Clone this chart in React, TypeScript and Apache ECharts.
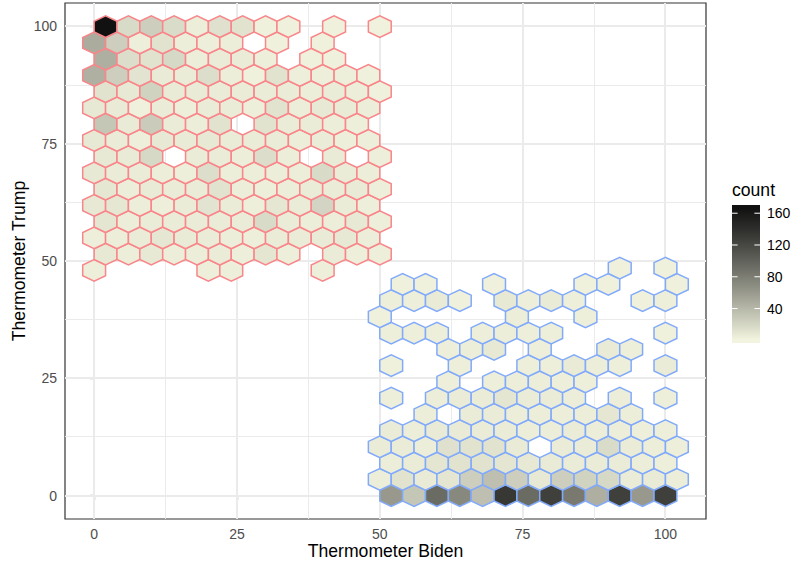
import React, { useEffect, useRef } from "react";
import * as echarts from "echarts";

// ---------- data ----------
const xMajorBreaks = [0, 25, 50, 75, 100];
const yMajorBreaks = [0, 25, 50, 75, 100];
const xMinorBreaks = [12.5, 37.5, 62.5, 87.5];
const yMinorBreaks = [12.5, 37.5, 62.5, 87.5];
const legendBreaks = [40, 80, 120, 160];
const countLimits = [1, 166];

const binWidth = 4;
// hexbin origins (x of first column in even rows, y of first row)
const trumpOrigin = [0, 48];
const bidenOrigin = [48, 0];

// counts per hex: rows from bottom (row 0) upward, columns left to right
const trumpCounts: number[][] = [
  [4, 0, 0, 0, 0, 4, 4, 0, 0, 0, 4, 0, 0],
  [8, 5, 8, 5, 5, 6, 4, 10, 4, 0, 6, 4, 4],
  [4, 5, 6, 9, 7, 6, 5, 4, 6, 6, 7, 8, 5],
  [10, 5, 6, 6, 6, 6, 6, 17, 6, 5, 5, 8, 4],
  [8, 9, 5, 4, 6, 11, 6, 4, 9, 6, 21, 6, 4],
  [9, 5, 7, 6, 6, 12, 5, 4, 5, 6, 6, 7, 4],
  [8, 6, 6, 5, 4, 15, 5, 5, 5, 5, 17, 6, 5],
  [8, 7, 18, 0, 6, 6, 5, 15, 5, 0, 7, 0, 4],
  [8, 6, 4, 8, 7, 8, 6, 6, 6, 5, 6, 4, 4],
  [30, 7, 27, 6, 5, 12, 0, 12, 6, 6, 5, 4, 0],
  [8, 7, 3, 6, 4, 6, 6, 4, 12, 5, 8, 7, 5],
  [12, 8, 22, 7, 7, 6, 6, 6, 6, 5, 6, 5, 3],
  [45, 25, 11, 7, 6, 15, 5, 3, 12, 4, 4, 4, 3],
  [46, 15, 12, 18, 5, 6, 6, 4, 0, 3, 3, 0, 0],
  [48, 25, 4, 12, 5, 4, 5, 0, 3, 0, 3, 0, 0],
  [166, 17, 25, 16, 5, 13, 12, 3, 3, 0, 3, 0, 2],
];

const bidenCounts: number[][] = [
  [0, 61, 30, 93, 72, 35, 133, 93, 126, 83, 46, 126, 61, 126],
  [5, 12, 7, 10, 25, 35, 25, 8, 25, 22, 18, 6, 7, 5],
  [0, 5, 6, 10, 12, 12, 10, 8, 7, 6, 6, 6, 5, 4],
  [6, 6, 5, 13, 12, 12, 7, 0, 6, 6, 16, 6, 5, 4],
  [0, 6, 5, 7, 7, 6, 6, 5, 5, 6, 5, 5, 4, 4],
  [0, 0, 5, 0, 6, 6, 5, 5, 5, 5, 9, 5, 0, 0],
  [0, 4, 0, 5, 6, 6, 10, 6, 6, 5, 0, 5, 0, 4],
  [0, 0, 0, 4, 0, 4, 5, 5, 4, 4, 0, 0, 0, 0],
  [0, 3, 0, 0, 4, 0, 0, 4, 4, 7, 5, 4, 0, 6],
  [0, 0, 0, 4, 5, 8, 0, 4, 0, 0, 7, 4, 0, 0],
  [0, 4, 4, 4, 0, 4, 5, 4, 4, 0, 0, 0, 0, 3],
  [3, 0, 0, 0, 0, 0, 5, 0, 0, 4, 0, 0, 0, 0],
  [0, 4, 4, 7, 3, 0, 8, 4, 7, 4, 0, 0, 3, 4],
  [0, 3, 3, 0, 0, 3, 0, 0, 0, 3, 3, 0, 0, 3],
  [0, 0, 0, 0, 0, 0, 0, 0, 0, 0, 0, 3, 0, 3],
];

// ---------- styling ----------
const lowColor = "#F2F4DF";
const highColor = "#111111";
const trumpStroke = "#F8868A";
const bidenStroke = "#82AAFA";
const FONT = "'Liberation Sans', Arial, Helvetica, sans-serif";

const xRange = [-5.1, 107.1];
const yRange = [-5, 105];

// ---------- Lab gradient (like ggplot2 scale_fill_gradient) ----------
function toLab(hex: string) {
  const n = parseInt(hex.slice(1), 16);
  const rgb = [(n >> 16) & 255, (n >> 8) & 255, n & 255].map((v) => {
    const c = v / 255;
    return c <= 0.04045 ? c / 12.92 : Math.pow((c + 0.055) / 1.055, 2.4);
  });
  const X = (rgb[0] * 0.4124 + rgb[1] * 0.3576 + rgb[2] * 0.1805) / 0.95047;
  const Y = rgb[0] * 0.2126 + rgb[1] * 0.7152 + rgb[2] * 0.0722;
  const Z = (rgb[0] * 0.0193 + rgb[1] * 0.1192 + rgb[2] * 0.9505) / 1.08883;
  const f = (t: number) => (t > 0.008856 ? Math.cbrt(t) : 7.787 * t + 16 / 116);
  return [116 * f(Y) - 16, 500 * (f(X) - f(Y)), 200 * (f(Y) - f(Z))];
}
function fromLab(lab: number[]) {
  const fy = (lab[0] + 16) / 116;
  const fx = fy + lab[1] / 500;
  const fz = fy - lab[2] / 200;
  const inv = (t: number) => (t * t * t > 0.008856 ? t * t * t : (t - 16 / 116) / 7.787);
  const X = inv(fx) * 0.95047, Y = inv(fy), Z = inv(fz) * 1.08883;
  const r = X * 3.2406 + Y * -1.5372 + Z * -0.4986;
  const g = X * -0.9689 + Y * 1.8758 + Z * 0.0415;
  const b = X * 0.0557 + Y * -0.204 + Z * 1.057;
  const enc = (c: number) => {
    const v = c <= 0.0031308 ? 12.92 * c : 1.055 * Math.pow(c, 1 / 2.4) - 0.055;
    return Math.max(0, Math.min(255, Math.round(v * 255)));
  };
  return "#" + [r, g, b].map((c) => enc(c).toString(16).padStart(2, "0")).join("");
}
const labLow = toLab(lowColor);
const labHigh = toLab(highColor);
function gradientColor(t: number) {
  return fromLab(labLow.map((v, k) => v + (labHigh[k] - v) * t));
}
const rampStops: string[] = [];
for (let k = 0; k <= 20; k++) rampStops.push(gradientColor(k / 20));

// ---------- hex centres from bin indices ----------
const rowStep = (binWidth * Math.sqrt(3)) / 2;
function buildHexes(rows: number[][], origin: number[]) {
  const out: number[][] = [];
  rows.forEach((row, i) =>
    row.forEach((c, j) => {
      if (c > 0) out.push([origin[0] + binWidth * (j + (i % 2) * 0.5), origin[1] + rowStep * i, c]);
    })
  );
  return out;
}
const hdx = binWidth / 2;
const hdy = (rowStep / Math.sqrt(3) / 2) * 1.15;
const hexOffsets = [
  [hdx, hdy],
  [0, 2 * hdy],
  [-hdx, hdy],
  [-hdx, -hdy],
  [0, -2 * hdy],
  [hdx, -hdy],
];

function hexRenderer(stroke: string) {
  return (params: any, api: any) => {
    const x = api.value(0);
    const y = api.value(1);
    const pts = hexOffsets.map(([ox, oy]) => api.coord([x + ox, y + oy]));
    return {
      type: "polygon",
      shape: { points: pts },
      style: { fill: api.visual("color"), stroke, lineWidth: 1.5 },
    };
  };
}

const gridData: number[][] = [
  ...xMinorBreaks.map((v) => [v, 0, 0]),
  ...yMinorBreaks.map((v) => [v, 1, 0]),
  ...xMajorBreaks.map((v) => [v, 0, 1]),
  ...yMajorBreaks.map((v) => [v, 1, 1]),
];

// legend geometry
const bar = { x: 732, y: 205, w: 28, h: 138 };
const nbin = 20;
function legendY(v: number) {
  const p = (0.5 + ((nbin - 1) * (v - countLimits[0])) / (countLimits[1] - countLimits[0])) / nbin;
  return bar.y + bar.h - p * bar.h;
}

export default function App() {
  const ref = useRef<HTMLDivElement>(null);
  useEffect(() => {
    document.body.style.margin = "0";
    const chart = echarts.init(ref.current!, null, { renderer: "svg" });
    const legendGraphics: any[] = [
      {
        type: "text",
        left: bar.x,
        top: 181,
        style: { text: "count", fontSize: 17.6, fontFamily: FONT, fill: "#000" },
      },
      {
        type: "rect",
        shape: { x: bar.x, y: bar.y, width: bar.w, height: bar.h },
        style: {
          fill: {
            type: "linear",
            x: 0,
            y: 1,
            x2: 0,
            y2: 0,
            colorStops: rampStops.map((c, k) => ({ offset: 0.025 + (0.95 * k) / 20, color: c })),
          },
        },
      },
    ];
    legendBreaks.forEach((v) => {
      const y = legendY(v);
      legendGraphics.push(
        { type: "line", shape: { x1: bar.x, y1: y, x2: bar.x + bar.w / 5, y2: y }, style: { stroke: "#ffffff", lineWidth: 1 } },
        { type: "line", shape: { x1: bar.x + bar.w - bar.w / 5, y1: y, x2: bar.x + bar.w, y2: y }, style: { stroke: "#ffffff", lineWidth: 1 } },
        {
          type: "text",
          x: bar.x + bar.w + 7,
          y,
          style: { text: String(v), fontSize: 14, fontFamily: FONT, fill: "#000", verticalAlign: "middle", align: "left" },
        }
      );
    });

    chart.setOption({
      animation: false,
      backgroundColor: "#ffffff",
      grid: {
        left: 65,
        top: 3,
        width: 641,
        height: 516,
        outerBoundsMode: "none",
        containLabel: false,
        show: true,
        borderColor: "#333333",
        borderWidth: 1.2,
        backgroundColor: "#ffffff",
      },
      xAxis: {
        type: "value",
        min: xRange[0],
        max: xRange[1],
        name: "Thermometer Biden",
        nameLocation: "middle",
        nameGap: 23,
        nameMoveOverlap: false,
        nameTextStyle: { fontSize: 17.6, color: "#000", fontFamily: FONT },
        axisLine: { show: false },
        splitLine: { show: false },
        axisTick: { show: true, customValues: xMajorBreaks, length: 4.4, lineStyle: { color: "#333333", width: 1.2 } },
        axisLabel: { customValues: xMajorBreaks, color: "#4D4D4D", fontSize: 14, fontFamily: FONT, margin: 8 },
      },
      yAxis: {
        type: "value",
        min: yRange[0],
        max: yRange[1],
        name: "Thermometer Trump",
        nameLocation: "middle",
        nameGap: 37,
        nameMoveOverlap: false,
        nameTextStyle: { fontSize: 17.6, color: "#000", fontFamily: FONT },
        axisLine: { show: false },
        splitLine: { show: false },
        axisTick: { show: true, customValues: yMajorBreaks, length: 4.4, lineStyle: { color: "#333333", width: 1.2 } },
        axisLabel: { customValues: yMajorBreaks, color: "#4D4D4D", fontSize: 14, fontFamily: FONT, margin: 8 },
      },
      visualMap: {
        show: false,
        type: "continuous",
        min: countLimits[0],
        max: countLimits[1],
        dimension: 2,
        seriesIndex: [1, 2],
        inRange: { color: rampStops },
      },
      graphic: legendGraphics,
      series: [
        {
          type: "custom",
          silent: true,
          z: 1,
          data: gridData,
          renderItem: (params: any, api: any) => {
            const v = api.value(0);
            const axis = api.value(1);
            const major = api.value(2);
            const p1 = axis === 0 ? api.coord([v, yRange[0]]) : api.coord([xRange[0], v]);
            const p2 = axis === 0 ? api.coord([v, yRange[1]]) : api.coord([xRange[1], v]);
            // snap to the pixel grid so that crossings stay clean
            const snap = (c: number) => (major ? Math.round(c) : Math.round(c - 0.5) + 0.5);
            const shape =
              axis === 0
                ? { x1: snap(p1[0]), y1: p1[1], x2: snap(p2[0]), y2: p2[1] }
                : { x1: p1[0], y1: snap(p1[1]), x2: p2[0], y2: snap(p2[1]) };
            return {
              type: "line",
              shape,
              style: { stroke: "#EBEBEB", lineWidth: major ? 2 : 1 },
            };
          },
        },
        {
          type: "custom",
          name: "Trump",
          z: 2,
          data: buildHexes(trumpCounts, trumpOrigin),
          renderItem: hexRenderer(trumpStroke),
        },
        {
          type: "custom",
          name: "Biden",
          z: 2,
          data: buildHexes(bidenCounts, bidenOrigin),
          renderItem: hexRenderer(bidenStroke),
        },
      ],
    });
    return () => chart.dispose();
  }, []);
  return <div ref={ref} style={{ width: 793, height: 564 }} />;
}
